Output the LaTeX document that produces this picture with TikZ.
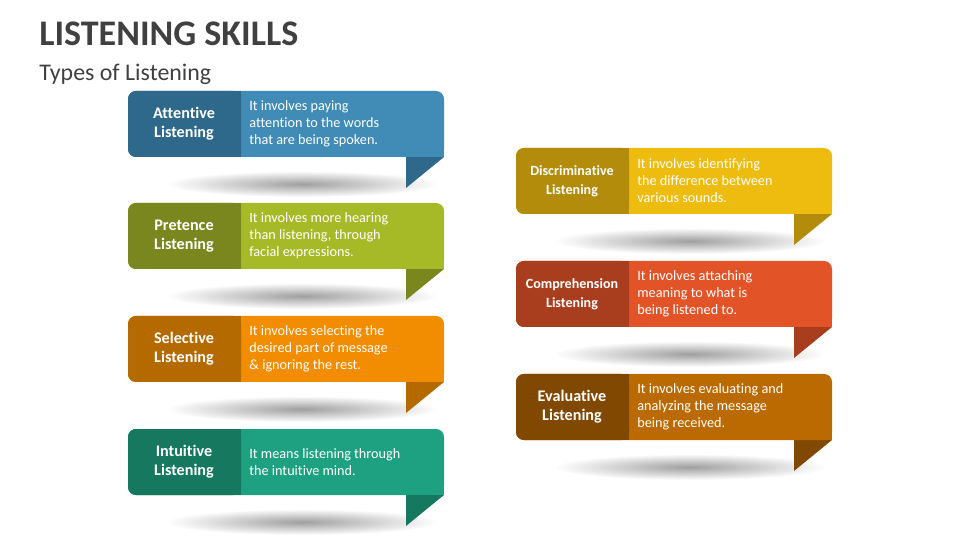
\documentclass[tikz,border=0pt]{standalone}
\usepackage{fontspec}
\setmainfont{Carlito}[Ligatures=NoCommon]
\definecolor{headgray}{HTML}{404040}
\definecolor{attL}{HTML}{418BB7}
\definecolor{attD}{HTML}{2E688A}
\definecolor{preL}{HTML}{A6BA28}
\definecolor{preD}{HTML}{7A871E}
\definecolor{selL}{HTML}{F28C00}
\definecolor{selD}{HTML}{B56A00}
\definecolor{intL}{HTML}{1DA180}
\definecolor{intD}{HTML}{16785F}
\definecolor{disL}{HTML}{EEBB0F}
\definecolor{disD}{HTML}{B28C0A}
\definecolor{comL}{HTML}{E25428}
\definecolor{comD}{HTML}{A93E1E}
\definecolor{evaL}{HTML}{BA6A00}
\definecolor{evaD}{HTML}{804800}
\tikzset{
  cardtitle/.style={text=white, align=center},
  carddesc/.style={text=white, font=\fontsize{8.1}{9.7}\selectfont, align=left, anchor=west, inner sep=0pt},
}

\begin{document}
\begin{tikzpicture}[x=0.02cm, y=-0.02cm]
  \useasboundingbox (0,0) rectangle (960,540);
  % heading
  \node[anchor=west, inner sep=0pt, text=headgray, font=\bfseries\fontsize{20.5}{24}\selectfont] (title) at (39,34) {LISTENING SKILLS};
  \node[anchor=west, inner sep=0pt, text=headgray, font=\fontsize{13.6}{16}\selectfont] (subtitle) at (39,74) {Types of Listening};
  % cards
  \foreach \px/\py/\col/\fs/\ttl/\dsc in {
      128/91/att/9.2/{Attentive\\Listening}/{It involves paying\\attention to the words\\that are being spoken.},
      128/203/pre/9.2/{Pretence\\Listening}/{It involves more hearing\\than listening, through\\facial expressions.},
      128/316/sel/9.2/{Selective\\Listening}/{It involves selecting the\\desired part of message\\\& ignoring the rest.},
      128/429/int/9.2/{Intuitive\\Listening}/{It means listening through\\the intuitive mind.},
      516/148/dis/8/{Discriminative\\Listening}/{It involves identifying\\the difference between\\various sounds.},
      516/261/com/8/{Comprehension\\Listening}/{It involves attaching\\meaning to what is\\being listened to.},
      516/374/eva/9.2/{Evaluative\\Listening}/{It involves evaluating and\\analyzing the message\\being received.}} {
    % shadow and fold
    \shade[inner color=gray!75, outer color=white] (\px+174,\py+93) ellipse [x radius=136, y radius=13];
    \fill[\col D] (\px+278,\py+66) -- (\px+316,\py+66) -- (\px+278,\py+97) -- cycle;
    % body
    \fill[\col L, rounded corners=4.5pt] (\px,\py) rectangle (\px+316,\py+66);
    \fill[\col L] (\px+300,\py+50) rectangle (\px+316,\py+66);
    \fill[\col D, rounded corners=4.5pt] (\px,\py) rectangle (\px+113,\py+66);
    \fill[\col D] (\px+100,\py) rectangle (\px+113,\py+66);
    \node[cardtitle, font=\bfseries\fontsize{\fs}{10.8}\selectfont] (t\col) at (\px+56,\py+33) {\ttl};
    \node[carddesc] (d\col) at (\px+121,\py+33) {\dsc};
  }
\end{tikzpicture}
\end{document}
